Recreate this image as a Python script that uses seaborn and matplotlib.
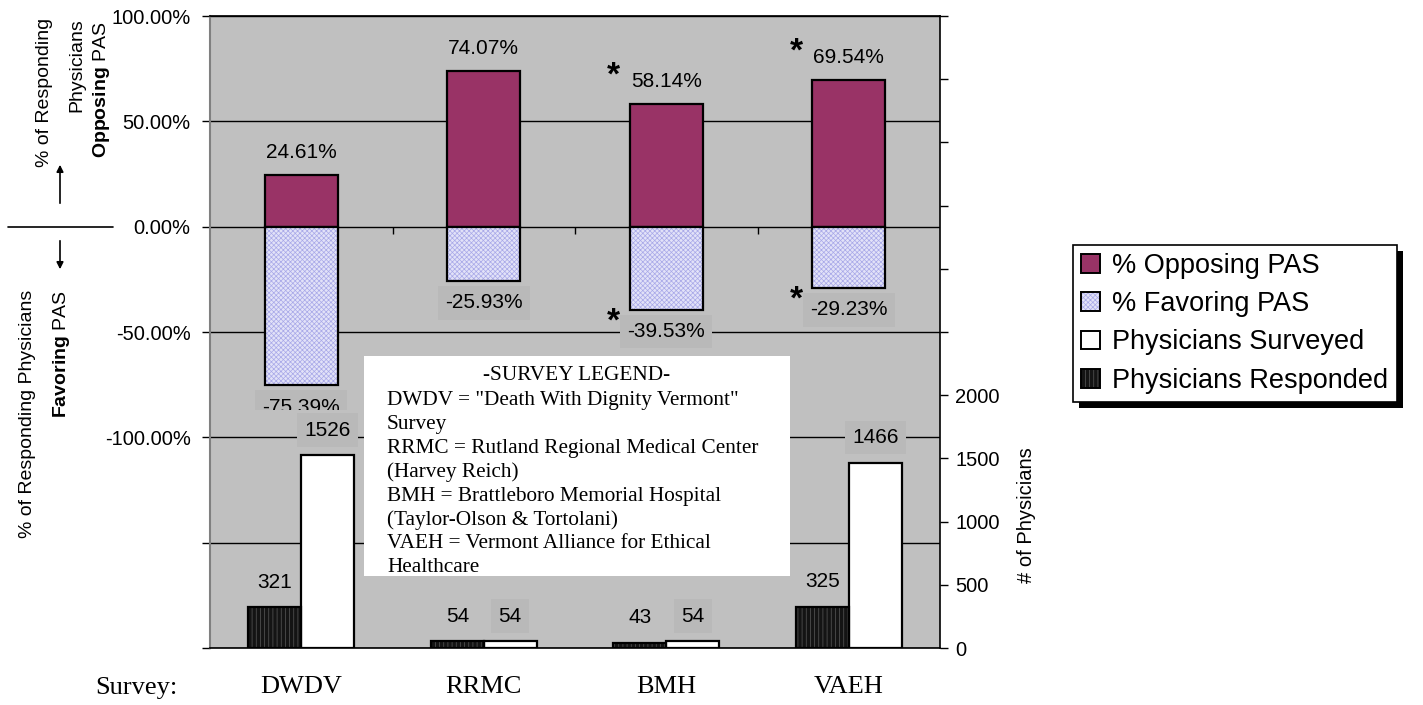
import matplotlib
matplotlib.use("Agg")
import matplotlib.pyplot as plt
import seaborn as sns
import pandas as pd
from matplotlib.patches import Rectangle, Patch
from matplotlib.lines import Line2D
from matplotlib.transforms import Bbox

# ---------------- data ----------------
surveys = ["DWDV", "RRMC", "BMH", "VAEH"]
opposing = [24.61, 74.07, 58.14, 69.54]
favoring = [-75.39, -25.93, -39.53, -29.23]
responded = [321, 54, 43, 325]
surveyed = [1526, 54, 54, 1466]
starred = [False, False, True, True]
pct_ticks = [-200, -150, -100, -50, 0, 50, 100]
pct_label_min = -100
count_ticks = list(range(0, 5001, 500))
count_label_max = 2000
legend_labels = ["% Opposing PAS", "% Favoring PAS", "Physicians Surveyed", "Physicians Responded"]
survey_legend_title = "-SURVEY LEGEND-"
survey_legend_lines = [
    'DWDV = "Death With Dignity Vermont"',
    "Survey",
    "RRMC = Rutland Regional Medical Center",
    "(Harvey Reich)",
    "BMH = Brattleboro Memorial Hospital",
    "(Taylor-Olson & Tortolani)",
    "VAEH = Vermont Alliance for Ethical",
    "Healthcare",
]

# ---------------- style ----------------
C_OPP = "#993366"
C_FAV = "#E2E2F8"
C_FAV_H = "#A8A8E8"
C_RESP = "#141414"
C_RESP_H = "#5A5A5A"
C_PLOT = "#C0C0C0"
C_LBOX = "#B9B9B9"

sns.set_theme(style="white")
plt.rcParams["font.family"] = ["Liberation Sans", "DejaVu Sans"]
plt.rcParams["mathtext.fontset"] = "custom"
plt.rcParams["mathtext.rm"] = "Liberation Sans"
plt.rcParams["mathtext.bf"] = "Liberation Sans:bold"
plt.rcParams["hatch.linewidth"] = 0.5
for key in ["text.color", "axes.labelcolor", "xtick.color", "ytick.color"]:
    plt.rcParams[key] = "black"

W, H = 1423, 705
fig = plt.figure(figsize=(W / 100, H / 100), dpi=100)
fig.patch.set_facecolor("white")


def fx(x):
    return x / W


def fy(y):
    return 1 - y / H


ax = fig.add_axes([fx(210), fy(648), fx(940) - fx(210), fy(16) - fy(648)])
ax.set_facecolor(C_PLOT)

df_pct = pd.DataFrame({"Survey": surveys, "Opposing": opposing, "Favoring": favoring})

sns.barplot(data=df_pct, x="Survey", y="Opposing", color=C_OPP, width=0.4,
            saturation=1, edgecolor="black", linewidth=1.6, ax=ax, zorder=3)
n0 = len(ax.patches)
sns.barplot(data=df_pct, x="Survey", y="Favoring", color=C_FAV, width=0.4,
            saturation=1, edgecolor=C_FAV_H, linewidth=0, ax=ax, zorder=3)
for p in ax.patches[n0:]:
    p.set_hatch("xxxxxxx")
    ax.add_patch(Rectangle(p.get_xy(), p.get_width(), p.get_height(), fill=False,
                           edgecolor="black", linewidth=1.6, zorder=3.5))

ax.set_ylim(pct_ticks[0], pct_ticks[-1])
ax.set_xlim(-0.5, len(surveys) - 0.5)
ax.set_yticks(pct_ticks)
ax.set_yticklabels([f"{v:.2f}%" if v >= pct_label_min else "" for v in pct_ticks])
ax.yaxis.grid(True, color="black", linewidth=1)
ax.set_axisbelow(True)
ax.tick_params(axis="y", left=True, direction="out", length=6, width=1, color="black",
               pad=8, labelsize=14.5, labelcolor="black")
ax.set_xticks(range(len(surveys)))
ax.set_xticklabels(surveys, fontfamily="Liberation Serif", fontsize=19)
ax.tick_params(axis="x", length=0, pad=20, labelcolor="black")
ax.set_xlabel("")
ax.set_ylabel("")
ax.spines["left"].set_color("#808080")
ax.spines["left"].set_linewidth(1.5)
ax.spines["top"].set_color("black")
ax.spines["bottom"].set_color("black")
ax.spines["bottom"].set_linewidth(1.2)
ax.spines["right"].set_visible(False)

# small category-boundary ticks along the 0% line
loc0 = (0 - pct_ticks[0]) / (pct_ticks[-1] - pct_ticks[0])
sec = ax.secondary_xaxis(loc0)
sec.set_xticks([i + 0.5 for i in range(len(surveys) - 1)])
sec.xaxis.set_ticks_position("bottom")
sec.tick_params(axis="x", direction="out", length=5, width=1, color="black",
                labelbottom=False, labeltop=False)
for s in sec.spines.values():
    s.set_visible(False)

# percent labels
for i, (o, f) in enumerate(zip(opposing, favoring)):
    ax.annotate(f"{o:.2f}%", (i, o), xytext=(0, 16), textcoords="offset points",
                ha="center", va="center", fontsize=15, zorder=6, color="black")
    t = ax.annotate(f"{f:.2f}%", (i, f), xytext=(0, -15.5), textcoords="offset points",
                    ha="center", va="center", fontsize=15, zorder=5, color="black",
                    bbox=dict(boxstyle="square,pad=0.35", facecolor=C_LBOX, edgecolor="none"))
    if f < -60:
        # the reference shows the lower part of this label hidden
        t.set_clip_on(True)
        t.set_clip_path(None)
        t.set_clip_box(Bbox([[0, H - 410], [W, H]]))
    if starred[i]:
        ax.annotate("*", (i, o), xytext=(-38, 16 + 4), textcoords="offset points",
                    ha="center", va="center", fontsize=24, fontweight="bold", zorder=6,
                    color="black")
        ax.annotate("*", (i, f), xytext=(-38, -14.5 + 6), textcoords="offset points",
                    ha="center", va="center", fontsize=24, fontweight="bold", zorder=6,
                    color="black")

# ---------------- count axis ----------------
ax2 = ax.twinx()
df_cnt = pd.DataFrame({
    "Survey": surveys * 2,
    "Type": ["Physicians Responded"] * len(surveys) + ["Physicians Surveyed"] * len(surveys),
    "Count": responded + surveyed,
})
sns.barplot(data=df_cnt, x="Survey", y="Count", hue="Type",
            hue_order=["Physicians Responded", "Physicians Surveyed"],
            palette=[C_RESP, "white"], width=0.58, saturation=1,
            edgecolor="black", linewidth=1.6, legend=False, ax=ax2, zorder=3)
for p in list(ax2.patches):
    fc = p.get_facecolor()
    if fc[0] < 0.5:
        p.set_hatch("||||")
        p.set_edgecolor(C_RESP_H)
        p.set_linewidth(0)
        ax2.add_patch(Rectangle(p.get_xy(), p.get_width(), p.get_height(), fill=False,
                                edgecolor="black", linewidth=1.6, zorder=3.5))

ax2.set_ylim(count_ticks[0], count_ticks[-1])
ax2.set_yticks(count_ticks)
ax2.set_yticklabels([str(v) if v <= count_label_max else "" for v in count_ticks])
ax2.tick_params(axis="y", right=True, direction="out", length=6, width=1, color="black",
                pad=5, labelsize=14.5, labelcolor="black")
ax2.set_xlabel("")
ax2.set_ylabel("")
for s in ["left", "top", "bottom"]:
    ax2.spines[s].set_visible(False)
ax2.spines["right"].set_color("black")
ax2.spines["right"].set_linewidth(1.2)
ax2.grid(False)

hw = 0.58 / 4
for i, (r, s) in enumerate(zip(responded, surveyed)):
    ax2.annotate(str(r), (i - hw, r), xytext=(0, 18), textcoords="offset points",
                 ha="center", va="center", fontsize=15, zorder=6, color="black")
    ax2.annotate(str(s), (i + hw, s), xytext=(0, 18), textcoords="offset points",
                 ha="center", va="center", fontsize=15, zorder=6, color="black",
                 bbox=dict(boxstyle="square,pad=0.35", facecolor=C_LBOX, edgecolor="none"))

# ---------------- figure-level texts ----------------
fig.text(fx(136), fy(688), "Survey:", ha="center", va="center",
         fontfamily="Liberation Serif", fontsize=19)
fig.text(fx(1027), fy(515), "# of Physicians", rotation=90, ha="center", va="center",
         fontsize=14.5)

# left axis descriptions
fig.text(fx(45), fy(18), "% of Responding", rotation=90, ha="center", va="top", fontsize=14)
fig.text(fx(77), fy(18), "Physicians", rotation=90, ha="center", va="top", fontsize=14)
fig.text(fx(101), fy(21), r"$\mathbf{Opposing}$ PAS", rotation=90, ha="center", va="top",
         fontsize=14)
fig.text(fx(28), fy(290), "% of Responding Physicians", rotation=90, ha="center", va="top",
         fontsize=14)
fig.text(fx(62), fy(290), r"$\mathbf{Favoring}$ PAS", rotation=90, ha="center", va="top",
         fontsize=14)
fig.add_artist(Line2D([fx(8), fx(113)], [fy(227), fy(227)], transform=fig.transFigure,
                      color="black", linewidth=1.2))
ax.annotate("", xy=(fx(60), fy(162)), xycoords="figure fraction",
            xytext=(fx(60), fy(206)), textcoords="figure fraction",
            arrowprops=dict(arrowstyle="-|>", color="black", lw=1.2, mutation_scale=10),
            annotation_clip=False)
ax.annotate("", xy=(fx(60), fy(272)), xycoords="figure fraction",
            xytext=(fx(60), fy(238)), textcoords="figure fraction",
            arrowprops=dict(arrowstyle="-|>", color="black", lw=1.2, mutation_scale=10),
            annotation_clip=False)

# survey legend box
fig.add_artist(Rectangle((fx(364), fy(576)), fx(790) - fx(364), fy(356) - fy(576),
                         transform=fig.transFigure, facecolor="white", edgecolor="none",
                         zorder=3))
fig.text(fx(577), fy(376), survey_legend_title, ha="center", va="center",
         fontfamily="Liberation Serif", fontsize=15.3, zorder=4)
for k, line in enumerate(survey_legend_lines):
    fig.text(fx(387), fy(400 + k * 24), line, ha="left", va="center",
             fontfamily="Liberation Serif", fontsize=15.3, zorder=4)

# series legend
handles = [
    Patch(facecolor=C_OPP, edgecolor="black", linewidth=1.4),
    (Patch(facecolor=C_FAV, edgecolor=C_FAV_H, hatch="xxxxxxx", linewidth=0),
     Patch(fill=False, edgecolor="black", linewidth=1.4)),
    Patch(facecolor="white", edgecolor="black", linewidth=1.4),
    (Patch(facecolor=C_RESP, edgecolor=C_RESP_H, hatch="||||", linewidth=0),
     Patch(fill=False, edgecolor="black", linewidth=1.4)),
]
leg = fig.legend(handles, legend_labels, loc="upper left",
                 bbox_to_anchor=(fx(1073), fy(245)), bbox_transform=fig.transFigure,
                 frameon=True, fancybox=False, edgecolor="black", facecolor="white",
                 framealpha=1, fontsize=19.5, handlelength=0.7, handleheight=0.7,
                 handletextpad=0.45, labelspacing=0.45, borderpad=0.3, borderaxespad=0,
                 labelcolor="black")
leg.get_frame().set_linewidth(1.2)
leg.set_zorder(6)

fig.canvas.draw()
bb = leg.get_window_extent()
fig.add_artist(Rectangle((bb.x0 + 6, bb.y0 - 6), bb.width, bb.height, transform=None,
                         facecolor="black", edgecolor="none", zorder=5.5))

fig.savefig("out.png", dpi=100)
